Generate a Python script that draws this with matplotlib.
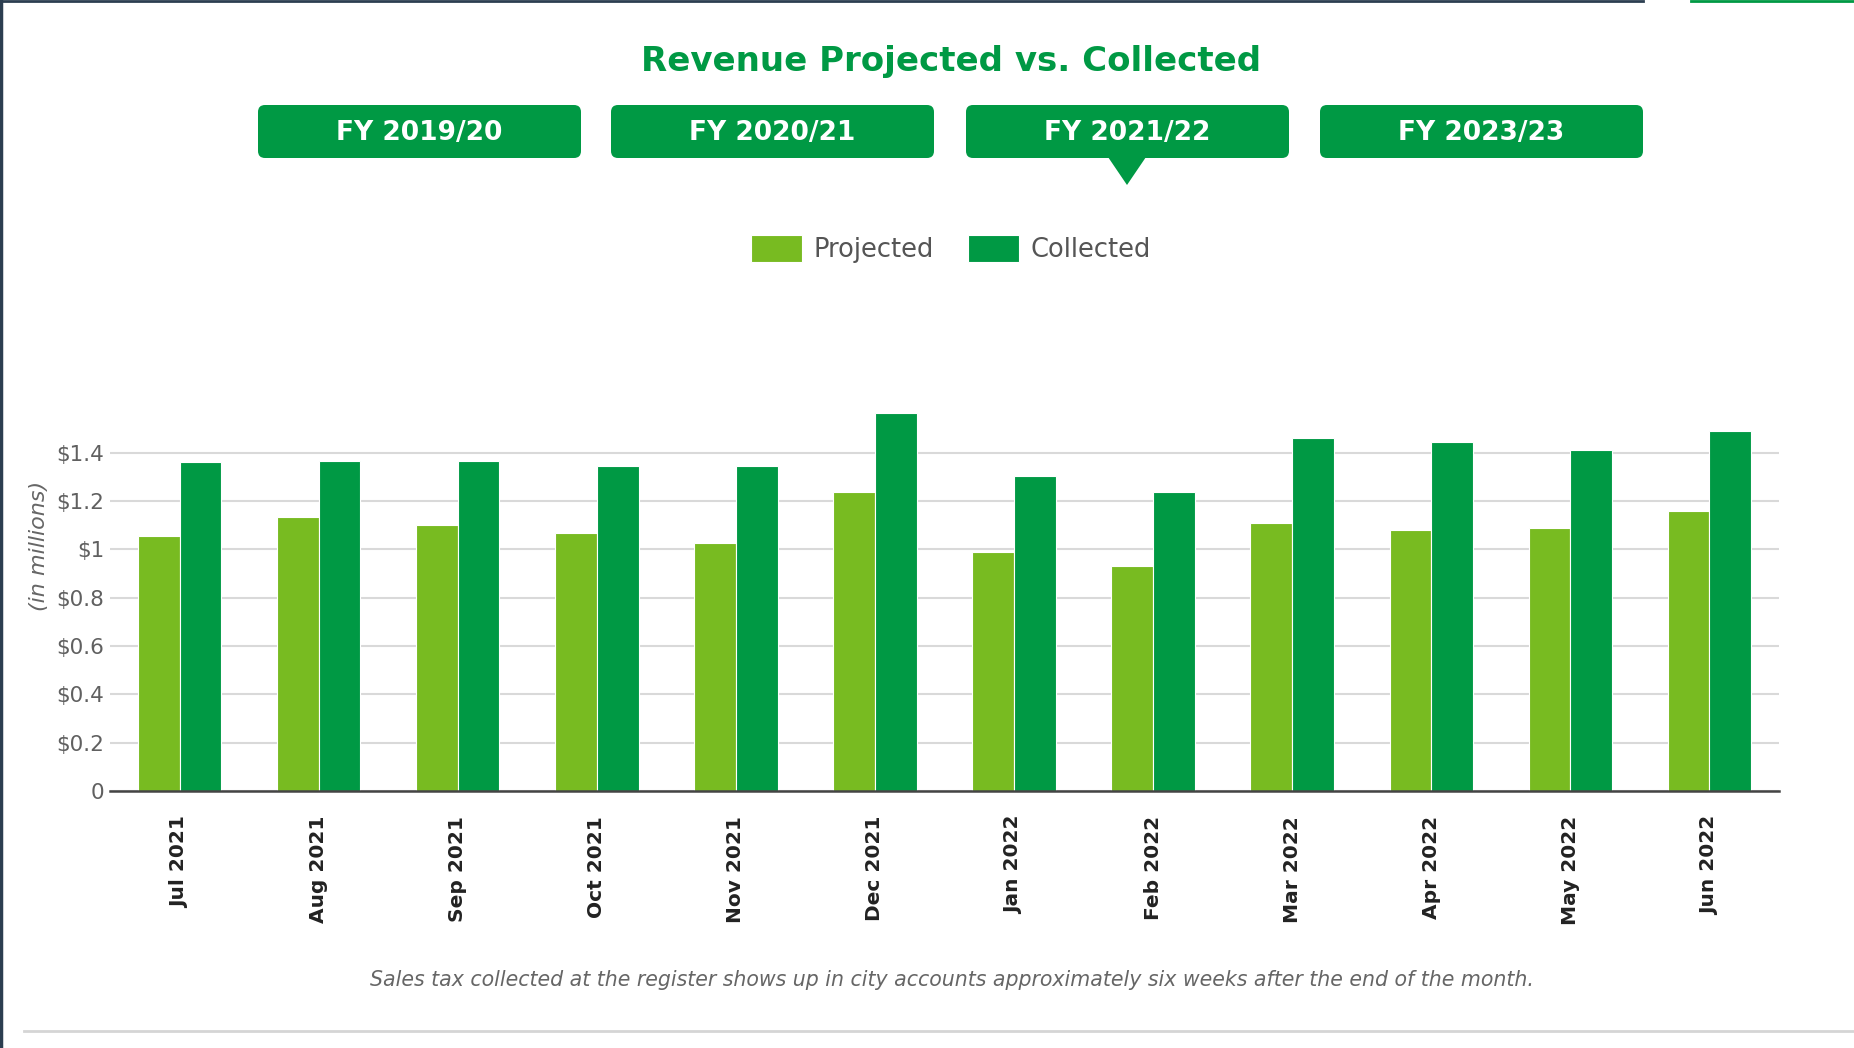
import numpy as np
import matplotlib
matplotlib.use("Agg")
import matplotlib.pyplot as plt
from matplotlib.patches import FancyBboxPatch, Polygon

# data (millions of dollars)
months = ["Jul 2021", "Aug 2021", "Sep 2021", "Oct 2021", "Nov 2021", "Dec 2021",
          "Jan 2022", "Feb 2022", "Mar 2022", "Apr 2022", "May 2022", "Jun 2022"]
projected = [1.057, 1.135, 1.101, 1.067, 1.025, 1.238,
             0.989, 0.933, 1.110, 1.081, 1.089, 1.160]
collected = [1.360, 1.367, 1.367, 1.345, 1.345, 1.566,
             1.303, 1.238, 1.459, 1.445, 1.410, 1.488]
yticks = [0, 0.2, 0.4, 0.6, 0.8, 1.0, 1.2, 1.4]
ytick_labels = ["0", "$0.2", "$0.4", "$0.6", "$0.8", "$1", "$1.2", "$1.4"]
fy_buttons = ["FY 2019/20", "FY 2020/21", "FY 2021/22", "FY 2023/23"]

LIGHT = "#78bb21"
DARK = "#009944"
W, H = 1854, 1048

plt.rcParams['font.family'] = ['DejaVu Sans']

fig = plt.figure(figsize=(W / 100, H / 100), dpi=100)
fig.patch.set_facecolor("white")

# overlay in pixel units for the decorations (buttons, borders)
ov = fig.add_axes([0, 0, 1, 1])
ov.set_xlim(0, W)
ov.set_ylim(H, 0)
ov.axis("off")

# borders
ov.plot([1, 1], [0, H], color="#2c3e50", lw=2.5)
ov.plot([0, 1643], [1, 1], color="#2c3e50", lw=2)
ov.plot([1691, W], [1, 1], color=DARK, lw=2)
ov.plot([24, W], [1031, 1031], color="#d5d5d5", lw=2)

# title
ov.text(951, 61, "Revenue Projected vs. Collected", color=DARK, fontsize=24.5,
        fontweight="bold", ha="center", va="center")

# year buttons
btn_x = [258, 611, 966, 1320]
for bx, lab in zip(btn_x, fy_buttons):
    ov.add_patch(FancyBboxPatch((bx, 105), 323, 53,
                                boxstyle="round,pad=0,rounding_size=7",
                                fc=DARK, ec="none"))
    ov.text(bx + 161, 133, lab, color="white", fontsize=19, fontweight="bold",
            ha="center", va="center")
ov.add_patch(Polygon([(1108, 157), (1146, 157), (1127, 185)], closed=True,
                     fc=DARK, ec="none"))

# main chart
ax = fig.add_axes([110 / W, 257 / H, 1669 / W, 386.6 / H])
x = np.arange(len(months))
bw = 0.3
b1 = ax.bar(x - bw / 2, projected, bw, color=LIGHT, edgecolor="white",
            linewidth=0.8, label="Projected", zorder=3)
b2 = ax.bar(x + bw / 2, collected, bw, color=DARK, edgecolor="white",
            linewidth=0.8, label="Collected", zorder=3)

ax.set_xlim(-0.5, len(months) - 0.5)
ax.set_ylim(0, 1.6)
ax.set_yticks(yticks)
ax.set_yticklabels(ytick_labels)
ax.set_xticks(x)
ax.set_xticklabels(months, rotation=90, fontweight="bold", fontsize=14.5,
                   color="#222222")
ax.tick_params(axis="y", length=0, labelsize=15.5, labelcolor="#606060", pad=4)
ax.tick_params(axis="x", length=0, pad=18)
ax.grid(axis="y", color="#d9d9d9", lw=1.5, zorder=0)
for s in ["top", "right", "left"]:
    ax.spines[s].set_visible(False)
ax.spines["bottom"].set_color("#444444")
ax.spines["bottom"].set_linewidth(1.8)
ax.spines["bottom"].set_zorder(4)
ax.set_facecolor("none")

fig.text(39 / W, 1 - 546 / H, "(in millions)", rotation=90, fontsize=16,
         style="italic", color="#666666", ha="center", va="center")

leg = fig.legend(handles=[b1, b2], loc="center", ncol=2, frameon=False,
                 bbox_to_anchor=(951 / W, 1 - 249 / H), fontsize=18.5,
                 handlelength=2.0, handleheight=1.25, handletextpad=0.45,
                 columnspacing=1.3)
for t in leg.get_texts():
    t.set_color("#555555")

fig.text(952 / W, 1 - 980 / H,
         "Sales tax collected at the register shows up in city accounts "
         "approximately six weeks after the end of the month.",
         fontsize=14.8, style="italic", color="#666666", ha="center", va="center")

fig.savefig("out.png", dpi=100)
